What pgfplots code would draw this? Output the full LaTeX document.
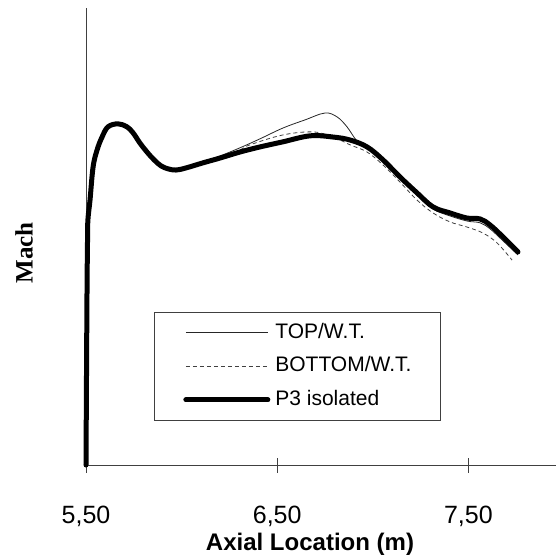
\documentclass[border=0pt]{standalone}
\usepackage{fontspec}
\setmainfont{Liberation Sans}
\newfontfamily\serifbf{Liberation Serif}
\usepackage{pgfplots}
\pgfplotsset{compat=1.18}

% Mach number along the axial direction: wind-tunnel top/bottom walls vs. isolated P3
\pgfplotstableread{
x      y
5.500  0.000
5.505  0.550
5.508  0.750
5.510  0.817
5.521  0.883
5.537  0.993
5.558  1.050
5.584  1.093
5.615  1.127
5.667  1.140
5.716  1.133
5.748  1.113
5.784  1.077
5.821  1.047
5.856  1.020
5.892  1.000
5.929  0.990
5.971  0.987
6.023  0.993
6.112  1.010
6.201  1.030
6.305  1.057
6.410  1.087
6.530  1.123
6.645  1.150
6.750  1.173
6.813  1.160
6.865  1.127
6.917  1.080
6.970  1.057
7.053  1.013
7.142  0.957
7.231  0.900
7.315  0.853
7.404  0.830
7.493  0.813
7.561  0.807
7.613  0.787
7.681  0.747
7.759  0.700
}\topwt

\pgfplotstableread{
x      y
5.500  0.000
5.505  0.550
5.508  0.750
5.510  0.817
5.521  0.883
5.537  0.993
5.558  1.050
5.584  1.093
5.615  1.127
5.667  1.137
5.714  1.127
5.746  1.107
5.782  1.073
5.819  1.043
5.856  1.017
5.892  0.997
5.929  0.987
5.971  0.983
6.023  0.990
6.112  1.007
6.201  1.023
6.305  1.050
6.358  1.067
6.530  1.100
6.687  1.110
6.792  1.093
6.881  1.067
6.970  1.043
7.053  1.000
7.142  0.943
7.231  0.883
7.315  0.840
7.404  0.810
7.493  0.793
7.576  0.773
7.650  0.740
7.728  0.683
}\bottomwt

\pgfplotstableread{
x      y
5.500  0.000
5.505  0.550
5.508  0.750
5.510  0.817
5.521  0.883
5.537  0.993
5.558  1.050
5.584  1.093
5.615  1.127
5.667  1.137
5.714  1.127
5.746  1.107
5.782  1.073
5.819  1.043
5.856  1.017
5.892  0.997
5.929  0.987
5.971  0.983
6.023  0.990
6.112  1.007
6.201  1.023
6.305  1.043
6.410  1.060
6.530  1.077
6.672  1.097
6.792  1.093
6.881  1.083
6.970  1.060
7.053  1.017
7.142  0.960
7.231  0.907
7.315  0.860
7.404  0.840
7.493  0.823
7.561  0.820
7.613  0.800
7.681  0.760
7.759  0.710
}\isolated

\begin{document}
\begin{tikzpicture}
\begin{axis}[
  name=ax,
  scale only axis,
  width=470pt, height=457pt,
  xmin=5.5, xmax=7.958,
  ymin=0, ymax=1.523,
  axis x line=bottom, axis y line=left,
  axis line style={-, black!75, line width=0.7pt},
  xtick={5.5,6.5,7.5},
  xticklabels={{5,50},{6,50},{7,50}},
  ytick=\empty,
  tick align=center,
  major tick length=15pt,
  tick style={black!75, line width=0.7pt},
  xticklabel style={font=\fontsize{25}{25}\selectfont, anchor=base, yshift=-51pt},
  xlabel={Axial Location (m)},
  xlabel style={font=\fontsize{24}{24}\selectfont\bfseries,
    at={(axis description cs:0.4766,0)}, anchor=base, yshift=-85pt},
  ylabel={Mach},
  ylabel style={font=\fontsize{25}{25}\selectfont\serifbf\bfseries,
    at={(axis description cs:-0.132,0.464)}, anchor=center},
  clip=false,
  legend cell align=left,
  legend image code/.code={\draw[#1] (0pt,0pt) -- (82pt,0pt);},
  legend style={
    at={(axis description cs:0.1447,0.3348)}, anchor=north west,
    draw=black!75, line width=0.7pt, fill=white,
    inner xsep=29pt, inner ysep=11pt,
    row sep=14.5pt, column sep=5pt,
    font=\fontsize{21}{21}\selectfont,
    nodes={inner sep=0pt, text height=15pt, text depth=4pt},
  },
]
\addplot[black!85, line width=0.8pt, smooth, tension=0.6] table[x=x,y=y] {\topwt};
\addlegendentry{TOP/W.T.}
\addplot[black!75, line width=0.8pt, dash pattern=on 4pt off 3pt, smooth, tension=0.6] table[x=x,y=y] {\bottomwt};
\addlegendentry{BOTTOM/W.T.}
\addplot[black, line width=5pt, line cap=round, line join=round, smooth, tension=0.6] table[x=x,y=y] {\isolated};
\addlegendentry{P3 isolated}
\end{axis}
\pgfresetboundingbox
\path (ax.south west) ++(-86pt,-92pt) rectangle ++(556pt,557pt);
\end{tikzpicture}
\end{document}
